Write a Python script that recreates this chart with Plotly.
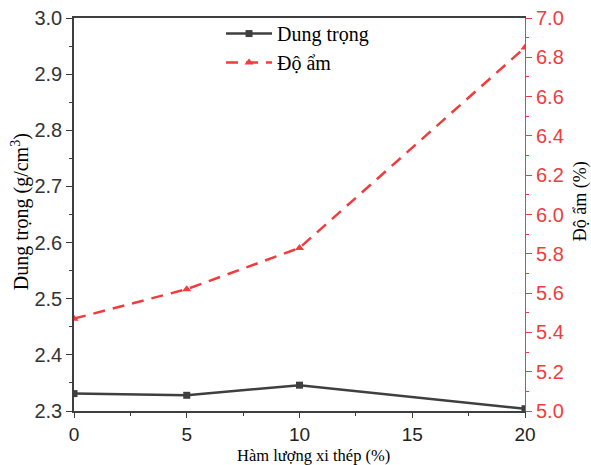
import plotly.graph_objects as go

# Steel slag content (%)
ham_luong = [0, 5, 10, 20]
# Bulk density (g/cm3)
dung_trong = [2.331, 2.328, 2.346, 2.304]
# Moisture content (%)
do_am = [5.47, 5.62, 5.83, 6.85]

GRAY = "#3f3f3f"
RED = "#f03c3c"
SANS = "Liberation Sans, Arial, sans-serif"
SERIF = "Liberation Serif, Times New Roman, serif"

fig = go.Figure()
fig.add_trace(go.Scatter(
    x=ham_luong, y=dung_trong, name="Dung trọng",
    mode="lines+markers",
    line=dict(color=GRAY, width=2.5),
    marker=dict(symbol="square", size=7, color=GRAY),
    yaxis="y",
))
fig.add_trace(go.Scatter(
    x=ham_luong, y=do_am, name="Độ ẩm",
    mode="lines+markers",
    line=dict(color=RED, width=2.5, dash="12px,8px"),
    marker=dict(symbol="triangle-up", size=8, color=RED),
    yaxis="y2",
))

# axis titles placed as annotations (paper coords)
titles = [
    dict(text="Hàm lượng xi thép (%)", x=0.530, y=-0.112, textangle=0, size=16.5),
    dict(text="Dung trọng (g/cm<sup>3</sup>)", x=-0.1197, y=0.506, textangle=-90, size=20),
    dict(text="Độ ẩm (%)", x=1.122, y=0.534, textangle=-90, size=18),
]
for t in titles:
    fig.add_annotation(
        text=t["text"], x=t["x"], y=t["y"], xref="paper", yref="paper",
        xanchor="center", yanchor="middle", textangle=t["textangle"],
        showarrow=False, borderpad=0,
        font=dict(family=SERIF, size=t["size"], color="black"),
    )

fig.update_layout(
    width=591, height=465,
    margin=dict(l=74, r=66, t=18, b=54),
    plot_bgcolor="white", paper_bgcolor="white",
    showlegend=True,
    legend=dict(
        x=0.326, y=1.01, xanchor="left", yanchor="top",
        bgcolor="rgba(0,0,0,0)",
        font=dict(family=SERIF, size=20, color="black"),
        itemwidth=46, tracegroupgap=0,
    ),
    xaxis=dict(
        range=[0, 20], tickvals=[0, 5, 10, 15, 20],
        showline=True, linecolor=GRAY, linewidth=1.5, mirror=True,
        ticks="outside", ticklen=5, tickcolor=GRAY, tickwidth=1,
        minor=dict(dtick=2.5, ticks="outside", ticklen=3, tickcolor=GRAY),
        showgrid=False, zeroline=False, automargin=False,
        tickfont=dict(family=SANS, size=19, color="#222"),
    ),
    yaxis=dict(
        range=[2.3, 3.0], dtick=0.1, tickformat=".1f",
        showline=True, linecolor=GRAY, linewidth=1.5,
        ticks="outside", ticklen=6, tickcolor=GRAY, tickwidth=1,
        minor=dict(dtick=0.05, ticks="outside", ticklen=3, tickcolor=GRAY),
        showgrid=False, zeroline=False, automargin=False,
        tickfont=dict(family=SANS, size=20, color="#333"),
    ),
    yaxis2=dict(
        range=[5.0, 7.0], dtick=0.2, tickformat=".1f",
        overlaying="y", side="right", anchor="x",
        showline=True, linecolor=RED, linewidth=1,
        ticks="outside", ticklen=6, tickcolor=RED, tickwidth=1,
        minor=dict(dtick=0.1, ticks="outside", ticklen=3, tickcolor=RED),
        showgrid=False, zeroline=False, automargin=False,
        tickfont=dict(family=SANS, size=20, color=RED),
    ),
)

fig.write_html("out.html")
